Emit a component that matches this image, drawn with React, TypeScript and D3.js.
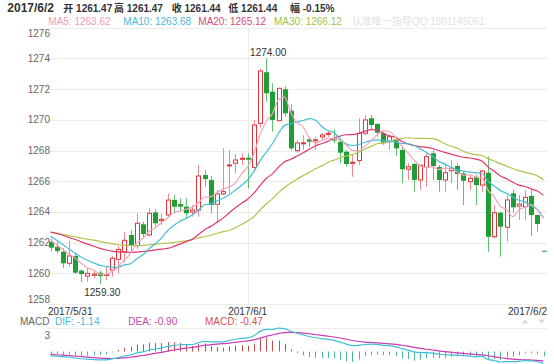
import React from 'react';
import * as d3 from 'd3';

// ---------- data ----------
const opens = [
  1262.06, 1261.73, 1261.41, 1260.65, 1261.13, 1260.17, 1259.82, 1259.87, 1260.04, 1259.88,
  1260.21, 1260.91, 1261.40, 1262.50, 1261.80, 1263.19, 1262.50, 1263.97, 1263.43, 1263.80,
  1264.78, 1264.51, 1264.34, 1263.99, 1264.12, 1266.40, 1266.08, 1264.50, 1265.17, 1267.00,
  1267.17, 1267.43, 1267.53, 1266.90, 1269.77, 1273.10, 1271.83, 1269.94, 1271.99, 1270.59,
  1267.99, 1268.45, 1268.73, 1268.65, 1268.88, 1269.08, 1268.72, 1268.57, 1267.92, 1267.18,
  1267.34, 1269.12, 1270.10, 1269.73, 1269.12, 1268.57, 1268.73, 1268.03, 1266.78, 1267.12,
  1266.08, 1266.90, 1267.82, 1266.92, 1266.08, 1266.68, 1266.99, 1266.51, 1265.97, 1266.29,
  1265.75, 1266.55, 1262.38, 1263.95, 1263.00, 1265.21, 1264.38, 1264.34, 1265.04, 1263.80,
  1261.47,
];
const highs = [
  1262.27, 1262.06, 1261.63, 1262.12, 1261.26, 1260.26, 1260.33, 1260.21, 1260.17, 1260.43,
  1261.13, 1261.78, 1262.70, 1262.82, 1263.90, 1263.36, 1264.23, 1264.17, 1263.90, 1265.20,
  1265.10, 1264.89, 1264.89, 1264.45, 1267.06, 1266.73, 1266.34, 1265.43, 1268.14, 1268.03,
  1267.77, 1267.82, 1267.82, 1269.99, 1273.30, 1274.00, 1272.38, 1272.10, 1272.20, 1271.00,
  1268.68, 1269.00, 1268.90, 1268.90, 1269.14, 1269.27, 1269.38, 1268.79, 1268.03, 1267.71,
  1270.10, 1270.31, 1270.31, 1269.77, 1269.23, 1269.01, 1268.90, 1268.25, 1267.17, 1267.17,
  1267.06, 1267.82, 1268.03, 1267.06, 1267.17, 1267.38, 1267.17, 1266.62, 1266.40, 1266.40,
  1266.73, 1267.60, 1264.45, 1264.01, 1265.10, 1265.43, 1265.10, 1265.43, 1265.43, 1263.80,
  1261.47,
];
const lows = [
  1261.42, 1261.30, 1260.33, 1260.43, 1259.95, 1259.40, 1259.45, 1259.67, 1259.30, 1259.56,
  1259.78, 1260.02, 1260.70, 1261.41, 1261.60, 1262.28, 1262.40, 1263.04, 1263.15, 1263.60,
  1263.91, 1264.01, 1263.58, 1263.69, 1263.69, 1265.64, 1263.91, 1263.26, 1265.10, 1265.21,
  1266.51, 1267.06, 1265.54, 1266.80, 1269.50, 1271.18, 1269.22, 1269.90, 1270.20, 1268.00,
  1267.84, 1268.03, 1268.25, 1268.03, 1268.68, 1268.88, 1268.47, 1267.17, 1266.94, 1266.29,
  1267.05, 1269.00, 1269.34, 1268.90, 1268.36, 1268.03, 1267.64, 1265.86, 1266.08, 1265.32,
  1265.43, 1265.64, 1266.08, 1265.32, 1265.32, 1265.88, 1265.43, 1264.45, 1265.43, 1264.45,
  1265.32, 1261.41, 1262.28, 1261.08, 1262.06, 1263.93, 1263.47, 1263.47, 1262.43, 1262.71,
  1261.44,
];
const closes = [
  1261.67, 1261.45, 1260.65, 1261.13, 1260.04, 1259.95, 1260.00, 1259.95, 1259.82, 1259.93,
  1260.98, 1261.56, 1262.15, 1261.84, 1263.26, 1262.56, 1263.91, 1263.26, 1263.52, 1264.77,
  1264.34, 1264.34, 1263.91, 1264.12, 1266.34, 1266.14, 1264.45, 1265.17, 1265.32, 1267.06,
  1267.38, 1267.49, 1267.40, 1269.66, 1273.18, 1271.73, 1269.99, 1272.05, 1270.42, 1268.14,
  1268.49, 1268.50, 1268.57, 1268.70, 1269.01, 1269.12, 1268.66, 1267.86, 1267.12, 1267.23,
  1269.12, 1269.99, 1269.66, 1269.16, 1268.47, 1268.90, 1268.14, 1266.78, 1266.94, 1266.08,
  1267.04, 1267.60, 1266.99, 1266.08, 1266.55, 1266.84, 1266.47, 1266.03, 1266.19, 1265.75,
  1266.66, 1262.38, 1263.95, 1263.04, 1264.78, 1264.30, 1264.51, 1264.95, 1263.80, 1263.21,
  1261.44,
];

// moving-average values at the left edge (before the window fills)
const ma5Lead = [1262.15, 1261.85, 1261.55, 1261.25];
const ma10Lead = [1262.43, 1262.15, 1261.88, 1261.58, 1261.3, 1261.05, 1260.85, 1260.68, 1260.52];
const ma20Lead = [
  1262.69, 1262.6, 1262.48, 1262.33, 1262.2, 1262.05, 1261.9, 1261.76, 1261.62, 1261.52,
  1261.45, 1261.4, 1261.37, 1261.36, 1261.38, 1261.42, 1261.46, 1261.52, 1261.57,
];
const ma30Lead = [
  1262.67, 1262.6, 1262.52, 1262.45, 1262.38, 1262.3, 1262.22, 1262.16, 1262.08, 1262.0,
  1261.93, 1261.86, 1261.83, 1261.81, 1261.8, 1261.81, 1261.86, 1261.9, 1261.94, 1261.96,
  1262.0, 1262.06, 1262.12, 1262.2, 1262.3, 1262.38, 1262.48, 1262.6, 1262.72,
];
// MACD state at the left edge (EMA12, EMA26, DEA)
const macdSeedEma12 = 1262.2;
const macdSeedEma26 = 1262.6;
const macdSeedDea = -0.25;

// texts shown in the legends
const headerDate = '2017/6/2';
const headerLabels = ['开', '高', '收', '低', '幅'];
const headerValues = ['1261.47', '1261.47', '1261.44', '1261.44', '-0.15%'];
const maNames = ['MA5', 'MA10', 'MA20', 'MA30'];
const maLegendValues = ['1263.62', '1263.68', '1265.12', '1266.12'];
const macdNames = ['DIF', 'DEA', 'MACD'];
const macdLegendValues = ['-1.14', '-0.90', '-0.47'];
const watermark = '认准唯一指导QQ:1801145061';

const priceTicks = [1258, 1260, 1262, 1264, 1266, 1268, 1270, 1272, 1274, 1276];
const dateIdx = [0, 32, 80];
const dateText = ['2017/5/31', '2017/6/1', '2017/6/2'];

// ---------- styles ----------
const FONT = '"Liberation Sans", Arial, "Noto Sans CJK SC", sans-serif';
const W = 554;
const H = 364;
const UP = '#e2333b';
const UP_WICK = '#f08a8f';
const DOWN = '#1f9e35';
const DOWN_WICK = '#63c070';
const MA_COLORS = ['#f4a5bb', '#45bfd5', '#e0386f', '#b3c34a'];
const MA_TEXT = ['#f29bb5', '#4fb8d4', '#d94a7c', '#9fbf45'];
const HEADER_X = [63.3, 114, 171.7, 228.3, 290];
const MA_X = [48.3, 123.3, 198.3, 274];
const MACD_X = [55, 128.3, 205];
const MACD_TEXT = ['#4fb8d4', '#c24aa8', '#d9534f'];

function movingAvg(n: number, lead: number[]) {
  return closes.map((_, i) => {
    if (i < n - 1) return lead[i];
    return d3.mean(closes.slice(i - n + 1, i + 1)) as number;
  });
}

export default function App() {
  const x = d3.scaleLinear().domain([0, closes.length - 1]).range([50.5, 543.5]);
  const y = d3.scaleLinear().domain([1258, 1276]).range([304, 27.7]);
  const ym = d3.scaleLinear().domain([-1.2, 2.25]).range([364, 328.1]);

  const mas = [
    movingAvg(5, ma5Lead),
    movingAvg(10, ma10Lead),
    movingAvg(20, ma20Lead),
    movingAvg(30, ma30Lead),
  ];

  let e12 = macdSeedEma12;
  let e26 = macdSeedEma26;
  let dea = macdSeedDea;
  const difArr: number[] = [];
  const deaArr: number[] = [];
  const barArr: number[] = [];
  closes.forEach((c) => {
    e12 += (2 / 13) * (c - e12);
    e26 += (2 / 27) * (c - e26);
    const d = e12 - e26;
    dea += 0.2 * (d - dea);
    difArr.push(d);
    deaArr.push(dea);
    barArr.push(2 * (d - dea));
  });

  const line = (vals: number[], sc: d3.ScaleLinear<number, number>) =>
    d3
      .line<number>()
      .x((_, i) => x(i))
      .y((v) => sc(v))
      .curve(d3.curveMonotoneX)(vals) as string;

  const bw = 4;
  const hiIdx = d3.maxIndex(highs);
  const loIdx = d3.minIndex(lows);
  const zeroY = ym(0);

  return (
    <svg
      width={W}
      height={H}
      style={{ position: 'absolute', left: 0, top: 0, background: '#fff' }}
      fontFamily={FONT}
    >
      <rect x={0} y={0} width={W} height={H} fill="#fff" />
      {/* header */}
      <text x={7.3} y={11.5} fontSize={12} fontWeight="bold" fill="#333">{headerDate}</text>
      {headerLabels.map((l, k) => (
        <text key={l} x={HEADER_X[k]} y={11.5} fontSize={10} fontWeight="bold" fill="#333">
          {l} {headerValues[k]}
        </text>
      ))}
      {maNames.map((n, k) => (
        <text key={n} x={MA_X[k]} y={24.5} fontSize={10} fill={MA_TEXT[k]}>
          {n}: {maLegendValues[k]}
        </text>
      ))}
      <text x={351.7} y={24.5} fontSize={10} fill="#e2e2e2">{watermark}</text>

      {/* grid */}
      {priceTicks.map((t) => (
        <line key={t} x1={48} x2={547} y1={Math.round(y(t)) + 0.5} y2={Math.round(y(t)) + 0.5} stroke="#ececec" />
      ))}
      <line x1={Math.round(x(32)) + 0.5} x2={Math.round(x(32)) + 0.5} y1={y(1276)} y2={304} stroke="#ececec" />
      {priceTicks.map((t) => {
        const cy = Math.min(Math.max(y(t), 33), 299);
        return (
          <text key={'l' + t} x={50} y={cy + 3.5} fontSize={10} fill="#666" textAnchor="end">
            {t}
          </text>
        );
      })}

      {/* candles */}
      {closes.map((c, i) => {
        const o = opens[i];
        const cx = Math.round(x(i)) + 0.5;
        const up = c >= o;
        const top = y(Math.max(o, c));
        const bot = y(Math.min(o, c));
        const h = Math.max(bot - top, 1);
        const yh = y(highs[i]);
        const yl = y(lows[i]);
        if (up) {
          return (
            <g key={i}>
              <line x1={cx} x2={cx} y1={yh} y2={top} stroke={UP_WICK} />
              <line x1={cx} x2={cx} y1={top + h} y2={yl} stroke={UP_WICK} />
              <rect x={cx - bw / 2} y={top} width={bw} height={h} fill="#fff" stroke={UP} strokeWidth={1} />
            </g>
          );
        }
        return (
          <g key={i}>
            <line x1={cx} x2={cx} y1={yh} y2={yl} stroke={DOWN_WICK} />
            <rect x={cx - bw / 2 - 0.5} y={top} width={bw + 1} height={h} fill={DOWN} />
          </g>
        );
      })}

      {/* moving averages (drawn MA30 first) */}
      {[3, 2, 1, 0].map((k) => (
        <path key={'ma' + k} d={line(mas[k], y)} fill="none" stroke={MA_COLORS[k]} strokeWidth={1.2} />
      ))}

      {/* high / low marks */}
      <text x={x(hiIdx) + 2} y={y(highs[hiIdx]) - 2} fontSize={10} fill="#333" textAnchor="middle">
        {highs[hiIdx].toFixed(2)}
      </text>
      <text x={x(loIdx) + 2.5} y={y(lows[loIdx]) + 11.5} fontSize={10} fill="#333" textAnchor="middle">
        {lows[loIdx].toFixed(2)}
      </text>

      {/* dates */}
      {dateIdx.map((di, k) => {
        const anchor = k === 0 ? 'start' : k === dateIdx.length - 1 ? 'end' : 'middle';
        const px = k === 0 ? 48 : k === dateIdx.length - 1 ? 547 : x(di);
        return (
          <text key={di} x={px} y={315} fontSize={10} fill="#333" textAnchor={anchor}>
            {dateText[k]}
          </text>
        );
      })}

      {/* MACD panel */}
      <text x={20} y={325} fontSize={10} fill="#666">MACD</text>
      {macdNames.map((n, k) => (
        <text key={n} x={MACD_X[k]} y={325} fontSize={10} fill={MACD_TEXT[k]}>
          {n}: {macdLegendValues[k]}
        </text>
      ))}
      <path d="M521.5,323.5 L525,319.5 L528.5,323.5 Z" fill="#d8d8d8" />
      <path d="M538.5,319.5 L545,319.5 L541.75,323.5 Z" fill="#d8d8d8" />

      <line x1={48} x2={547} y1={328.5} y2={328.5} stroke="#ececec" />
      <text x={50} y={338.5} fontSize={10} fill="#666" textAnchor="end">3</text>

      {barArr.map((b, i) => {
        const cx = Math.round(x(i)) + 0.5;
        return (
          <line
            key={'b' + i}
            x1={cx}
            x2={cx}
            y1={zeroY}
            y2={ym(b)}
            stroke={b >= 0 ? '#c4504b' : '#4fb39a'}
            strokeWidth={1}
          />
        );
      })}
      <path d={line(deaArr, ym)} fill="none" stroke="#c93bb4" strokeWidth={1.2} />
      <path d={line(difArr, ym)} fill="none" stroke="#3fc0d8" strokeWidth={1.2} />
    </svg>
  );
}
